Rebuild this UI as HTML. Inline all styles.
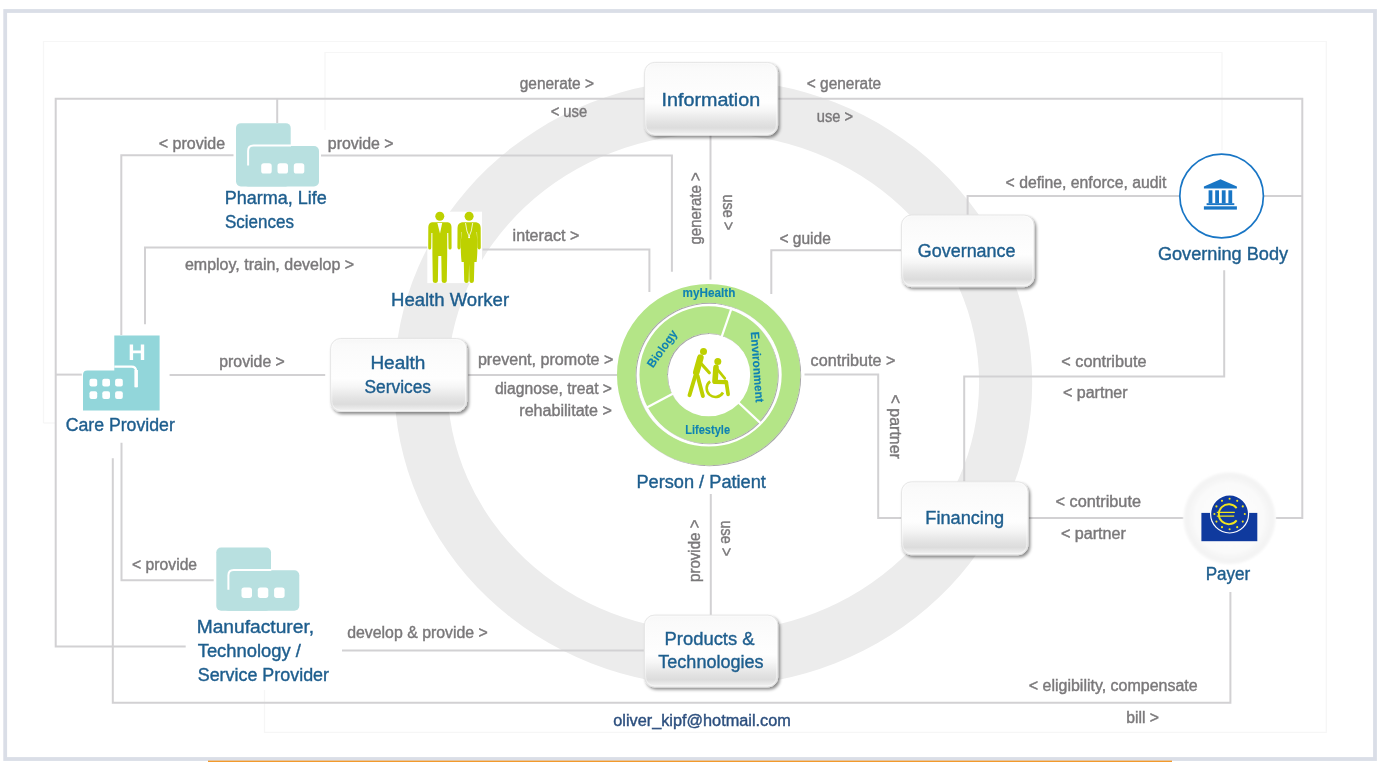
<!DOCTYPE html>
<html><head><meta charset="utf-8"><style>
html,body{margin:0;padding:0;background:#fff;width:1380px;height:762px;overflow:hidden;}
svg text{font-family:"Liberation Sans",sans-serif;}
</style></head><body>
<svg width="1380" height="762" viewBox="0 0 1380 762" style="position:absolute;left:0;top:0">
<defs>
<linearGradient id="bx" x1="0" y1="0" x2="0" y2="1">
<stop offset="0" stop-color="#f6f6f6"/>
<stop offset="0.08" stop-color="#fafafa"/>
<stop offset="0.55" stop-color="#fefefe"/>
<stop offset="0.66" stop-color="#f6f6f6"/>
<stop offset="0.82" stop-color="#e3e3e3"/>
<stop offset="0.90" stop-color="#dcdcdc"/>
<stop offset="0.96" stop-color="#ebebeb"/>
<stop offset="1" stop-color="#f3f3f3"/>
</linearGradient>
<filter id="sh" x="-20%" y="-20%" width="140%" height="150%">
<feDropShadow dx="1.8" dy="2.2" stdDeviation="1.7" flood-color="#000" flood-opacity="0.45"/>
</filter>
<filter id="sh2" x="-20%" y="-20%" width="140%" height="140%">
<feDropShadow dx="0.9" dy="0.9" stdDeviation="0.6" flood-color="#000" flood-opacity="0.38"/>
</filter>
<filter id="tb" x="-2%" y="-2%" width="104%" height="104%"><feGaussianBlur stdDeviation="0.3"/></filter>
<filter id="blur1"><feGaussianBlur stdDeviation="1.2"/></filter>
<filter id="blur2" x="-20%" y="-20%" width="140%" height="140%"><feGaussianBlur stdDeviation="1.8"/></filter>
<radialGradient id="payg" cx="0.5" cy="0.5" r="0.5">
<stop offset="0" stop-color="#fcfcfc"/>
<stop offset="0.75" stop-color="#fafafa"/>
<stop offset="0.92" stop-color="#f3f3f3"/>
<stop offset="1" stop-color="#f6f6f6"/>
</radialGradient>
</defs>
<rect x="0" y="0" width="1380" height="762" fill="#ffffff"/>
<rect x="5.2" y="11" width="1369.8" height="748" fill="none" stroke="#dadee7" stroke-width="3.8"/>
<rect x="208" y="760.6" width="964" height="1.4" fill="#f39a2c"/>
<path fill="#ececec" fill-rule="evenodd" d="M394.20000000000005,382.9 a319.0,303.3 0 1,0 638.0,0 a319.0,303.3 0 1,0 -638.0,0 Z M447.30000000000007,382.9 a265.9,249.0 0 1,0 531.8,0 a265.9,249.0 0 1,0 -531.8,0 Z"/>
<path d="M43.5,423 L43.5,41.5 L1326.3,41.5 L1326.3,732.3 L264.5,732.3 L264.5,690" fill="none" stroke="#f6f6f6" stroke-width="1.2"/>
<path d="M43.5,423 L55,423" fill="none" stroke="#f6f6f6" stroke-width="1.2"/>
<path d="M325,130 L325,52.5 L1222,52.5 L1222,150" fill="none" stroke="#f6f6f6" stroke-width="1.2"/>
<path d="M645,98.7 L55.7,98.7 L55.7,646.4 L185.7,646.4" fill="none" stroke="#d2d1d3" stroke-width="2"/>
<path d="M778,98.7 L1302.3,98.7 L1302.3,518.1 L1275.8,518.1" fill="none" stroke="#d2d1d3" stroke-width="2"/>
<path d="M277.2,98.7 L277.2,123" fill="none" stroke="#d2d1d3" stroke-width="2"/>
<path d="M233.5,155.3 L121.3,155.3 L121.3,335" fill="none" stroke="#d2d1d3" stroke-width="2"/>
<path d="M321,155.5 L671.9,155.5 L671.9,271.7" fill="none" stroke="#d2d1d3" stroke-width="2"/>
<path d="M710.5,135 L710.5,279.6" fill="none" stroke="#d2d1d3" stroke-width="2"/>
<path d="M427.8,247.4 L145,247.4 L145,324.3" fill="none" stroke="#d2d1d3" stroke-width="2"/>
<path d="M482.6,249.4 L649.4,249.4 L649.4,292" fill="none" stroke="#d2d1d3" stroke-width="2"/>
<path d="M901.3,250.2 L771.3,250.2 L771.3,293.9" fill="none" stroke="#d2d1d3" stroke-width="2"/>
<path d="M1179.5,196 L967.6,196 L967.6,215" fill="none" stroke="#d2d1d3" stroke-width="2"/>
<path d="M1263.9,196 L1302.3,196" fill="none" stroke="#d2d1d3" stroke-width="2"/>
<path d="M1224.2,270.3 L1224.2,376.6 L964.2,376.6 L964.2,481.6" fill="none" stroke="#d2d1d3" stroke-width="2"/>
<path d="M56,374.6 L81.8,374.6" fill="none" stroke="#d2d1d3" stroke-width="2"/>
<path d="M169.6,375 L325.2,375" fill="none" stroke="#d2d1d3" stroke-width="2"/>
<path d="M468.2,375 L617,375" fill="none" stroke="#d2d1d3" stroke-width="2"/>
<path d="M804.5,374.6 L878.2,374.6 L878.2,518.1 L902,518.1" fill="none" stroke="#d2d1d3" stroke-width="2"/>
<path d="M1028.8,518.1 L1183.4,518.1" fill="none" stroke="#d2d1d3" stroke-width="2"/>
<path d="M710.8,494 L710.8,615.3" fill="none" stroke="#d2d1d3" stroke-width="2"/>
<path d="M121.5,442.8 L121.5,580.2 L213.7,580.2" fill="none" stroke="#d2d1d3" stroke-width="2"/>
<path d="M112.8,458.2 L112.8,702.7 L1230.4,702.7 L1230.4,592" fill="none" stroke="#d2d1d3" stroke-width="2"/>
<path d="M342,650.4 L643.8,650.4" fill="none" stroke="#d2d1d3" stroke-width="2"/>
<rect x="644.6" y="62.4" width="133.0" height="72.79999999999998" rx="10" ry="10" fill="url(#bx)" stroke="#e4e4e4" stroke-width="0.9" filter="url(#sh)"/>
<rect x="645.8000000000001" y="63.6" width="130.6" height="70.39999999999998" rx="9" ry="9" fill="none" stroke="#ffffff" stroke-opacity="0.6" stroke-width="0.8"/>
<rect x="901.5" y="215" width="132.5" height="71.69999999999999" rx="10" ry="10" fill="url(#bx)" stroke="#e4e4e4" stroke-width="0.9" filter="url(#sh)"/>
<rect x="902.7" y="216.2" width="130.1" height="69.29999999999998" rx="9" ry="9" fill="none" stroke="#ffffff" stroke-opacity="0.6" stroke-width="0.8"/>
<rect x="330.6" y="338.5" width="136.09999999999997" height="73.0" rx="10" ry="10" fill="url(#bx)" stroke="#e4e4e4" stroke-width="0.9" filter="url(#sh)"/>
<rect x="331.8" y="339.7" width="133.69999999999996" height="70.6" rx="9" ry="9" fill="none" stroke="#ffffff" stroke-opacity="0.6" stroke-width="0.8"/>
<rect x="901.5" y="481.8" width="126.5" height="72.99999999999994" rx="10" ry="10" fill="url(#bx)" stroke="#e4e4e4" stroke-width="0.9" filter="url(#sh)"/>
<rect x="902.7" y="483.0" width="124.1" height="70.59999999999994" rx="9" ry="9" fill="none" stroke="#ffffff" stroke-opacity="0.6" stroke-width="0.8"/>
<rect x="644.4" y="615.1" width="133.39999999999998" height="71.89999999999998" rx="10" ry="10" fill="url(#bx)" stroke="#e4e4e4" stroke-width="0.9" filter="url(#sh)"/>
<rect x="645.6" y="616.3000000000001" width="130.99999999999997" height="69.49999999999997" rx="9" ry="9" fill="none" stroke="#ffffff" stroke-opacity="0.6" stroke-width="0.8"/>
<path fill="#b4e587" fill-rule="evenodd" filter="url(#sh2)" d="M617.00,374.7 a91.6,90.6 0 1,0 183.2,0 a91.6,90.6 0 1,0 -183.2,0 Z M635.50,374.7 a73.1,71.9 0 1,0 146.2,0 a73.1,71.9 0 1,0 -146.2,0 Z"/>
<path fill="#b4e587" fill-rule="evenodd" filter="url(#sh2)" d="M639.50,374.7 a69.1,68.5 0 1,0 138.2,0 a69.1,68.5 0 1,0 -138.2,0 Z M667.00,374.7 a41.6,41.6 0 1,0 83.2,0 a41.6,41.6 0 1,0 -83.2,0 Z"/>
<line x1="721.30" y1="337.82" x2="731.72" y2="307.57" stroke="#ffffff" stroke-width="2.2"/>
<line x1="737.12" y1="401.30" x2="760.53" y2="423.12" stroke="#ffffff" stroke-width="2.2"/>
<line x1="674.17" y1="393.01" x2="645.91" y2="408.03" stroke="#ffffff" stroke-width="2.2"/>
<g transform="translate(0,0)">
<rect x="236" y="123.2" width="54.7" height="63.2" rx="4.8" fill="#b8e0e0"/>
<rect x="243" y="146" width="76" height="40.4" rx="5" fill="#b8e0e0"/>
<path d="M248.1,165.4 L248.1,151 Q248.1,145.6 253.5,145.6 L291,145.6" fill="none" stroke="#ffffff" stroke-width="2"/>
<rect x="261.2" y="163.3" width="10.5" height="10.3" rx="2.6" fill="#ffffff"/>
<rect x="277.5" y="163.3" width="10.5" height="10.3" rx="2.6" fill="#ffffff"/>
<rect x="293.8" y="163.3" width="10.5" height="10.3" rx="2.6" fill="#ffffff"/>
</g>
<g transform="translate(-19.7,424.3)">
<rect x="236" y="123.2" width="54.7" height="63.2" rx="4.8" fill="#b8e0e0"/>
<rect x="243" y="146" width="76" height="40.4" rx="5" fill="#b8e0e0"/>
<path d="M248.1,165.4 L248.1,151 Q248.1,145.6 253.5,145.6 L291,145.6" fill="none" stroke="#ffffff" stroke-width="2"/>
<rect x="261.2" y="163.3" width="10.5" height="10.3" rx="2.6" fill="#ffffff"/>
<rect x="277.5" y="163.3" width="10.5" height="10.3" rx="2.6" fill="#ffffff"/>
<rect x="293.8" y="163.3" width="10.5" height="10.3" rx="2.6" fill="#ffffff"/>
</g>
<path fill="#92d6da" d="M83,375 Q83,370.6 87.4,370.6 L114.3,370.6 L114.3,335.5 L159.6,335.5 L159.6,410.5 L83,410.5 Z"/>
<path d="M114.3,366.6 L131.5,366.6 Q136.1,366.6 136.1,371.2 L136.1,387.2" fill="none" stroke="#ffffff" stroke-width="2.2"/>
<rect x="134.4" y="370" width="3.5" height="17.2" fill="#ffffff"/>
<rect x="89.5" y="378.7" width="7.7" height="7.7" rx="2" fill="#ffffff"/>
<rect x="89.5" y="391.3" width="7.7" height="7.7" rx="2" fill="#ffffff"/>
<rect x="102.3" y="378.7" width="7.7" height="7.7" rx="2" fill="#ffffff"/>
<rect x="102.3" y="391.3" width="7.7" height="7.7" rx="2" fill="#ffffff"/>
<rect x="115.1" y="378.7" width="7.7" height="7.7" rx="2" fill="#ffffff"/>
<rect x="115.1" y="391.3" width="7.7" height="7.7" rx="2" fill="#ffffff"/>
<path fill="#ffffff" d="M129.7,344.5 h3.4 v5.9 h7.7 v-5.9 h3.4 v15.4 h-3.4 v-6.6 h-7.7 v6.6 h-3.4 Z"/>
<rect x="427.3" y="211.7" width="54.7" height="71.4" fill="#ffffff"/>
<circle cx="439.8" cy="216.3" r="4.5" fill="#bdd100"/>
<path fill="#bdd100" d="M432,222.2 L447.8,222.2 Q451.4,222.8 451.5,227 L451.6,248 Q451.4,249.6 450,249.6 Q448.6,249.6 448.5,248 L448.3,233 L447.2,233 L447.2,254.5 L446.8,281 Q446.6,283 444.2,283 Q441.8,283 441.7,281 L441.3,256 L438.3,256 L437.9,281 Q437.7,283 435.3,283 Q432.9,283 432.8,281 L432.4,254.5 L432.4,233 L431.4,233 L431.2,248 Q431.1,249.6 429.7,249.6 Q428.3,249.6 428.2,248 L428.3,227 Q428.5,222.8 432,222.2 Z"/>
<path fill="#ffffff" d="M437.4,223 L442.2,223 L440.0,233.5 Z"/>
<circle cx="469.1" cy="216.3" r="4.5" fill="#bdd100"/>
<path fill="#bdd100" d="M462,222.2 L476.2,222.2 Q480.6,223 480.7,228 L480.8,247.5 Q480.6,249.6 479.2,249.6 Q477.8,249.6 477.6,247.5 L477,232 L476.6,232 Q478.2,248 476.6,262 L474.4,262 L473.9,281 Q473.7,283 471.6,283 Q469.6,283 469.4,281 L469.1,264 L468.7,281 Q468.5,283 466.5,283 Q464.4,283 464.2,281 L463.8,262 L461.6,262 Q460,248 461.6,232 L461.2,232 L460.6,247.5 Q460.4,249.6 459,249.6 Q457.6,249.6 457.4,247.5 L457.5,228 Q457.6,223 462,222.2 Z"/>
<path d="M465.5,223 Q466.5,232 469.1,236.5 Q471.7,232 472.7,223" fill="none" stroke="#ffffff" stroke-width="0.8"/>
<circle cx="469.1" cy="237.3" r="1" fill="#ffffff"/>
<circle cx="703.5" cy="351.4" r="3.5" fill="#bdd000"/>
<path fill="none" stroke="#bdd000" stroke-width="6.6" stroke-linecap="round" stroke-linejoin="round" d="M700.4,357.6 L696.3,372.4"/>
<path fill="none" stroke="#bdd000" stroke-width="3.2" stroke-linecap="round" stroke-linejoin="round" d="M701.5,364 L709.3,372.8"/>
<path fill="none" stroke="#bdd000" stroke-width="3.9" stroke-linecap="round" stroke-linejoin="round" d="M695.2,376 L689.5,395.2"/>
<path fill="none" stroke="#bdd000" stroke-width="3.9" stroke-linecap="round" stroke-linejoin="round" d="M697.6,376 L702.9,396"/>
<circle cx="717.8" cy="361.5" r="3.5" fill="#bdd000"/>
<path fill="none" stroke="#bdd000" stroke-width="5.6" stroke-linecap="round" stroke-linejoin="round" d="M716,367.2 L715,381.3"/>
<path fill="none" stroke="#bdd000" stroke-width="4.4" stroke-linecap="round" stroke-linejoin="round" d="M715,381.9 L726,382.1"/>
<path fill="none" stroke="#bdd000" stroke-width="3.7" stroke-linecap="round" stroke-linejoin="round" d="M726.3,382.3 L728.1,394.3"/>
<path fill="#ffffff" d="M718.5,378.8 L724.5,377.6 L725.3,379.8 Z"/>
<path fill="none" stroke="#bdd000" stroke-width="2.7" stroke-linecap="round" stroke-linejoin="round" d="M717.2,369.2 L724.8,378.4"/>
<path fill="none" stroke="#bdd000" stroke-width="2.6" d="M710.16,381.35 A8.7,8.7 0 1,0 723.0,392.5"/>
<circle cx="1221.6" cy="196" r="41.8" fill="#ffffff" stroke="#1976c5" stroke-width="1.7"/>
<path fill="#1976c5" d="M1220.5,179.3 L1236.9,186.6 L1236.9,188.4 L1203.9,188.4 L1203.9,186.6 Z"/>
<rect x="1208.6" y="190.3" width="3.8" height="13.1" fill="#1976c5"/>
<rect x="1215.2" y="190.3" width="3.8" height="13.1" fill="#1976c5"/>
<rect x="1221.8" y="190.3" width="3.8" height="13.1" fill="#1976c5"/>
<rect x="1228.4" y="190.3" width="3.8" height="13.1" fill="#1976c5"/>
<rect x="1206.6" y="203.2" width="27.7" height="1.9" fill="#1976c5"/>
<rect x="1203.9" y="206.3" width="33" height="3.3" fill="#1976c5"/>
<circle cx="1229.5" cy="518.2" r="46" fill="url(#payg)" filter="url(#blur1)"/>
<rect x="1201.4" y="512.9" width="55.9" height="28.3" fill="#0f3a9e"/>
<circle cx="1229.6" cy="514" r="19.6" fill="#ffffff"/>
<circle cx="1229.6" cy="514" r="18.4" fill="#0f3a9e"/>
<circle cx="1244.80" cy="514.00" r="1.05" fill="#f1e51c"/>
<circle cx="1242.76" cy="521.60" r="1.05" fill="#f1e51c"/>
<circle cx="1237.20" cy="527.16" r="1.05" fill="#f1e51c"/>
<circle cx="1229.60" cy="529.20" r="1.05" fill="#f1e51c"/>
<circle cx="1222.00" cy="527.16" r="1.05" fill="#f1e51c"/>
<circle cx="1216.44" cy="521.60" r="1.05" fill="#f1e51c"/>
<circle cx="1214.40" cy="514.00" r="1.05" fill="#f1e51c"/>
<circle cx="1216.44" cy="506.40" r="1.05" fill="#f1e51c"/>
<circle cx="1222.00" cy="500.84" r="1.05" fill="#f1e51c"/>
<circle cx="1229.60" cy="498.80" r="1.05" fill="#f1e51c"/>
<circle cx="1237.20" cy="500.84" r="1.05" fill="#f1e51c"/>
<circle cx="1242.76" cy="506.40" r="1.05" fill="#f1e51c"/>
<path fill="none" stroke="#f1e51c" stroke-width="1.9" d="M1236.68,508.04 A10,10 0 1,0 1236.68,520.36"/>
<path fill="none" stroke="#f1e51c" stroke-width="1.3" d="M1216.8,512.4 L1234.8,512.4 M1216.8,516.1 L1234.2,516.1"/>
<g filter="url(#tb)">
<text x="519.70" y="89.30" font-size="15.6" fill="#7a787a" stroke="#7a787a" stroke-width="0.4" textLength="74.33" lengthAdjust="spacingAndGlyphs">generate &gt;</text>
<text x="550.70" y="116.70" font-size="15.6" fill="#7a787a" stroke="#7a787a" stroke-width="0.4" textLength="36.43" lengthAdjust="spacingAndGlyphs">&lt; use</text>
<text x="806.80" y="88.70" font-size="15.6" fill="#7a787a" stroke="#7a787a" stroke-width="0.4" textLength="74.24" lengthAdjust="spacingAndGlyphs">&lt; generate</text>
<text x="816.80" y="122.20" font-size="15.6" fill="#7a787a" stroke="#7a787a" stroke-width="0.4" textLength="36.27" lengthAdjust="spacingAndGlyphs">use &gt;</text>
<text x="158.80" y="148.50" font-size="15.6" fill="#7a787a" stroke="#7a787a" stroke-width="0.4" textLength="66.37" lengthAdjust="spacingAndGlyphs">&lt; provide</text>
<text x="327.80" y="148.50" font-size="15.6" fill="#7a787a" stroke="#7a787a" stroke-width="0.4" textLength="65.87" lengthAdjust="spacingAndGlyphs">provide &gt;</text>
<text x="184.90" y="269.90" font-size="15.6" fill="#7a787a" stroke="#7a787a" stroke-width="0.4" textLength="169.24" lengthAdjust="spacingAndGlyphs">employ, train, develop &gt;</text>
<text x="512.60" y="241.00" font-size="15.6" fill="#7a787a" stroke="#7a787a" stroke-width="0.4" textLength="66.69" lengthAdjust="spacingAndGlyphs">interact &gt;</text>
<text x="779.40" y="244.00" font-size="15.6" fill="#7a787a" stroke="#7a787a" stroke-width="0.4" textLength="51.44" lengthAdjust="spacingAndGlyphs">&lt; guide</text>
<text x="1005.60" y="187.90" font-size="15.6" fill="#7a787a" stroke="#7a787a" stroke-width="0.4" textLength="160.73" lengthAdjust="spacingAndGlyphs">&lt; define, enforce, audit</text>
<text x="219.30" y="366.60" font-size="15.6" fill="#7a787a" stroke="#7a787a" stroke-width="0.4" textLength="65.56" lengthAdjust="spacingAndGlyphs">provide &gt;</text>
<text x="477.90" y="364.50" font-size="15.6" fill="#7a787a" stroke="#7a787a" stroke-width="0.4" textLength="135.56" lengthAdjust="spacingAndGlyphs">prevent, promote &gt;</text>
<text x="494.90" y="394.30" font-size="15.6" fill="#7a787a" stroke="#7a787a" stroke-width="0.4" textLength="117.09" lengthAdjust="spacingAndGlyphs">diagnose, treat &gt;</text>
<text x="519.30" y="416.00" font-size="15.6" fill="#7a787a" stroke="#7a787a" stroke-width="0.4" textLength="92.62" lengthAdjust="spacingAndGlyphs">rehabilitate &gt;</text>
<text x="810.60" y="365.60" font-size="15.6" fill="#7a787a" stroke="#7a787a" stroke-width="0.4" textLength="84.88" lengthAdjust="spacingAndGlyphs">contribute &gt;</text>
<text x="1061.30" y="366.80" font-size="15.6" fill="#7a787a" stroke="#7a787a" stroke-width="0.4" textLength="85.20" lengthAdjust="spacingAndGlyphs">&lt; contribute</text>
<text x="1062.90" y="397.50" font-size="15.6" fill="#7a787a" stroke="#7a787a" stroke-width="0.4" textLength="64.73" lengthAdjust="spacingAndGlyphs">&lt; partner</text>
<text x="1055.50" y="507.10" font-size="15.6" fill="#7a787a" stroke="#7a787a" stroke-width="0.4" textLength="85.50" lengthAdjust="spacingAndGlyphs">&lt; contribute</text>
<text x="1060.90" y="538.70" font-size="15.6" fill="#7a787a" stroke="#7a787a" stroke-width="0.4" textLength="65.04" lengthAdjust="spacingAndGlyphs">&lt; partner</text>
<text x="132.10" y="570.10" font-size="15.6" fill="#7a787a" stroke="#7a787a" stroke-width="0.4" textLength="65.00" lengthAdjust="spacingAndGlyphs">&lt; provide</text>
<text x="347.20" y="638.40" font-size="15.6" fill="#7a787a" stroke="#7a787a" stroke-width="0.4" textLength="140.66" lengthAdjust="spacingAndGlyphs">develop &amp; provide &gt;</text>
<text x="1028.80" y="691.00" font-size="15.6" fill="#7a787a" stroke="#7a787a" stroke-width="0.4" textLength="168.83" lengthAdjust="spacingAndGlyphs">&lt; eligibility, compensate</text>
<text x="1126.20" y="722.60" font-size="15.6" fill="#7a787a" stroke="#7a787a" stroke-width="0.4" textLength="32.88" lengthAdjust="spacingAndGlyphs">bill &gt;</text>
<text transform="translate(700.60,244.50) rotate(-90)" x="0" y="0" font-size="15.6" fill="#7a787a" stroke="#7a787a" stroke-width="0.4" textLength="72.20" lengthAdjust="spacingAndGlyphs">generate &gt;</text>
<text transform="translate(722.60,194.40) rotate(90)" x="0" y="0" font-size="15.6" fill="#7a787a" stroke="#7a787a" stroke-width="0.4" textLength="35.79" lengthAdjust="spacingAndGlyphs">use &gt;</text>
<text transform="translate(700.10,582.00) rotate(-90)" x="0" y="0" font-size="15.6" fill="#7a787a" stroke="#7a787a" stroke-width="0.4" textLength="62.53" lengthAdjust="spacingAndGlyphs">provide &gt;</text>
<text transform="translate(721.00,520.60) rotate(90)" x="0" y="0" font-size="15.6" fill="#7a787a" stroke="#7a787a" stroke-width="0.4" textLength="35.69" lengthAdjust="spacingAndGlyphs">use &gt;</text>
<text transform="translate(889.60,394.60) rotate(90)" x="0" y="0" font-size="15.6" fill="#7a787a" stroke="#7a787a" stroke-width="0.4" textLength="64.31" lengthAdjust="spacingAndGlyphs">&lt; partner</text>
<text x="661.50" y="105.80" font-size="18" fill="#1f5e8e" stroke="#1f5e8e" stroke-width="0.4" textLength="98.65" lengthAdjust="spacingAndGlyphs">Information</text>
<text x="917.80" y="256.70" font-size="18" fill="#1f5e8e" stroke="#1f5e8e" stroke-width="0.4" textLength="97.70" lengthAdjust="spacingAndGlyphs">Governance</text>
<text x="370.40" y="368.70" font-size="18" fill="#1f5e8e" stroke="#1f5e8e" stroke-width="0.4" textLength="54.94" lengthAdjust="spacingAndGlyphs">Health</text>
<text x="364.50" y="392.60" font-size="18" fill="#1f5e8e" stroke="#1f5e8e" stroke-width="0.4" textLength="66.56" lengthAdjust="spacingAndGlyphs">Services</text>
<text x="925.30" y="524.40" font-size="18" fill="#1f5e8e" stroke="#1f5e8e" stroke-width="0.4" textLength="78.80" lengthAdjust="spacingAndGlyphs">Financing</text>
<text x="664.60" y="644.80" font-size="18" fill="#1f5e8e" stroke="#1f5e8e" stroke-width="0.4" textLength="89.96" lengthAdjust="spacingAndGlyphs">Products &amp;</text>
<text x="658.30" y="667.70" font-size="18" fill="#1f5e8e" stroke="#1f5e8e" stroke-width="0.4" textLength="105.27" lengthAdjust="spacingAndGlyphs">Technologies</text>
<text x="224.70" y="203.80" font-size="18" fill="#1f5e8e" stroke="#1f5e8e" stroke-width="0.4" textLength="102.03" lengthAdjust="spacingAndGlyphs">Pharma, Life</text>
<text x="224.90" y="227.70" font-size="18" fill="#1f5e8e" stroke="#1f5e8e" stroke-width="0.4" textLength="69.01" lengthAdjust="spacingAndGlyphs">Sciences</text>
<text x="391.00" y="306.30" font-size="18" fill="#1f5e8e" stroke="#1f5e8e" stroke-width="0.4" textLength="118.09" lengthAdjust="spacingAndGlyphs">Health Worker</text>
<text x="65.70" y="430.90" font-size="18" fill="#1f5e8e" stroke="#1f5e8e" stroke-width="0.4" textLength="109.10" lengthAdjust="spacingAndGlyphs">Care Provider</text>
<text x="636.40" y="488.00" font-size="18" fill="#1f5e8e" stroke="#1f5e8e" stroke-width="0.4" textLength="129.52" lengthAdjust="spacingAndGlyphs">Person / Patient</text>
<text x="1157.90" y="259.60" font-size="18" fill="#1f5e8e" stroke="#1f5e8e" stroke-width="0.4" textLength="130.25" lengthAdjust="spacingAndGlyphs">Governing Body</text>
<text x="1205.70" y="579.60" font-size="18" fill="#1f5e8e" stroke="#1f5e8e" stroke-width="0.4" textLength="44.59" lengthAdjust="spacingAndGlyphs">Payer</text>
<text x="196.70" y="632.60" font-size="18" fill="#1f5e8e" stroke="#1f5e8e" stroke-width="0.4" textLength="117.39" lengthAdjust="spacingAndGlyphs">Manufacturer,</text>
<text x="197.70" y="656.70" font-size="18" fill="#1f5e8e" stroke="#1f5e8e" stroke-width="0.4" textLength="103.22" lengthAdjust="spacingAndGlyphs">Technology /</text>
<text x="197.70" y="680.50" font-size="18" fill="#1f5e8e" stroke="#1f5e8e" stroke-width="0.4" textLength="131.33" lengthAdjust="spacingAndGlyphs">Service Provider</text>
<text x="613.30" y="726.20" font-size="16" fill="#2d4f7e" stroke="#2d4f7e" stroke-width="0.4" textLength="177.48" lengthAdjust="spacingAndGlyphs">oliver_kipf@hotmail.com</text>
<text x="682.60" y="297.10" font-size="12" fill="#0f82b2" stroke="#0f82b2" stroke-width="0.1" font-weight="bold" textLength="52.80" lengthAdjust="spacingAndGlyphs">myHealth</text>
<text x="685.20" y="433.50" font-size="12" fill="#0f82b2" stroke="#0f82b2" stroke-width="0.1" font-weight="bold" textLength="44.84" lengthAdjust="spacingAndGlyphs">Lifestyle</text>
<g transform="translate(662,348.5) rotate(-55)">
<text x="0" y="4.2" font-size="12" font-weight="bold" fill="#0f82b2" stroke="#0f82b2" stroke-width="0.1" text-anchor="middle" textLength="43" lengthAdjust="spacingAndGlyphs">Biology</text></g>
<g transform="translate(757.5,367) rotate(86)">
<text x="0" y="4.2" font-size="12" font-weight="bold" fill="#0f82b2" stroke="#0f82b2" stroke-width="0.1" text-anchor="middle" textLength="71" lengthAdjust="spacingAndGlyphs">Environment</text></g>
</g>
</svg>
</body></html>
